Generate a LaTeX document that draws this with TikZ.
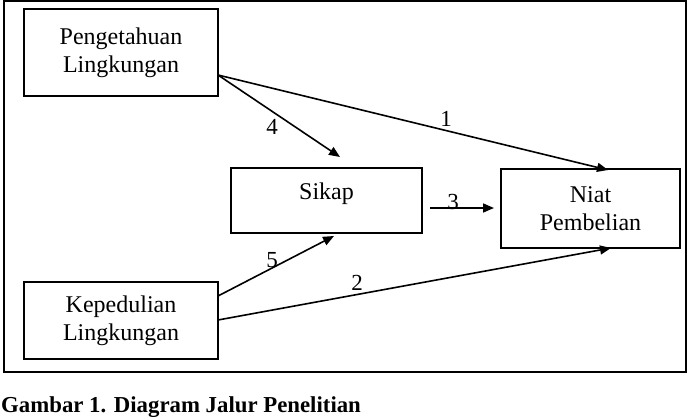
\documentclass[tikz,border=0pt]{standalone}
\usepackage{fontspec}
\setmainfont{Liberation Serif}
\usetikzlibrary{arrows.meta}
\begin{document}
\begin{tikzpicture}[x=1pt,y=-1pt,
  box/.style={draw,line width=1.5pt,inner sep=0pt,align=center,
    font=\fontsize{24}{28}\selectfont},
  conn/.style={line width=1.6pt,-{Triangle[length=11pt,width=9pt]}},
  lab/.style={font=\fontsize{23}{26}\selectfont,inner sep=0pt}]
\useasboundingbox (0,0) rectangle (690,417);
\draw[line width=2pt] (4,1) rectangle (686,372);
% boxes
\node[box,minimum width=194pt,minimum height=87pt] (peng) at (121,52.5) {Pengetahuan\\Lingkungan};
\node[box,minimum width=191pt,minimum height=65pt,text depth=18pt] (sikap) at (326.5,200.5) {Sikap};
\node[box,minimum width=179pt,minimum height=79pt] (niat) at (590.5,208.5) {Niat\\Pembelian};
\node[box,minimum width=194pt,minimum height=77pt] (kep) at (121,320.5) {Kepedulian\\Lingkungan};
% connector end points
\coordinate (p1) at (218,75);
\coordinate (e4) at (340,157);
\coordinate (e1) at (608,170);
\coordinate (s3) at (430,208);
\coordinate (e3) at (494,208);
\coordinate (k5) at (218,296);
\coordinate (e5) at (334,236);
\coordinate (k2) at (218,320);
\coordinate (e2) at (611,248);
% connectors
\draw[conn] (p1) -- (e1);
\draw[conn] (p1) -- (e4);
\draw[conn] (s3) -- (e3);
\draw[conn] (k5) -- (e5);
\draw[conn] (k2) -- (e2);
% labels
\node[lab] (l1) at (446,119) {1};
\node[lab] (l4) at (272,127) {4};
\node[lab] (l3) at (453,202) {3};
\node[lab] (l5) at (272,260) {5};
\node[lab] (l2) at (357,283) {2};
% caption
\node[anchor=base west,inner sep=0pt,font=\fontsize{22.8}{26}\selectfont\bfseries] (cap) at (1,412) {Gambar 1. Diagram Jalur Penelitian};
\end{tikzpicture}
\end{document}
